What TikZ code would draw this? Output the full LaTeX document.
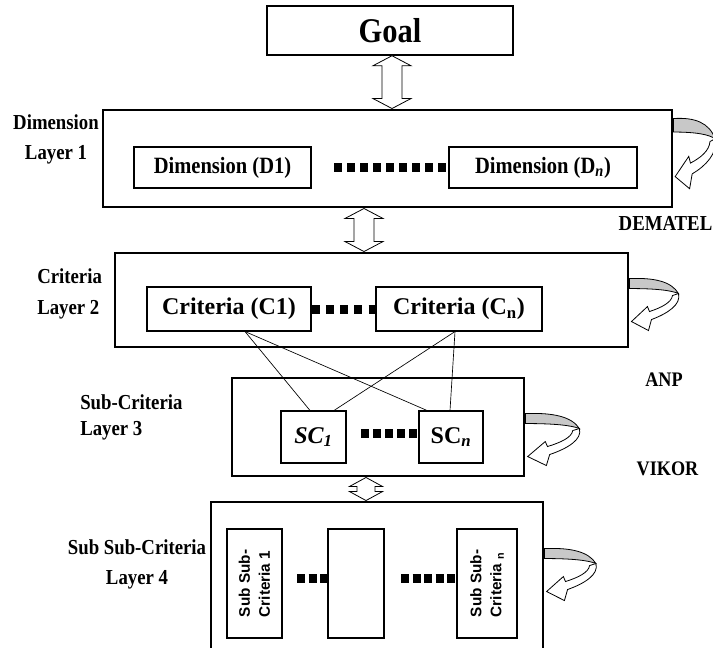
\documentclass[tikz,border=0pt]{standalone}
\usepackage{fontspec}
\setmainfont{Liberation Serif}
\newfontfamily\cond[FakeStretch=0.88]{Liberation Serif}
\newfontfamily\arialf{Liberation Sans}
\usetikzlibrary{calc}
\newlength\pxu \setlength\pxu{0.75pt}
\definecolor{loopgray}{RGB}{200,200,200}
\tikzset{
 layerbox/.style={draw, line width=2.2pt, inner sep=0pt},
 innerbox/.style={draw, line width=0.8pt, inner sep=0pt},
 lbl/.style={font=\cond\bfseries\fontsize{16}{23}\selectfont, inner sep=0pt},
 dotline/.style={line width=6.75pt, dash pattern=on 6pt off #1},
 conn/.style={line width=0.5pt},
 harrow/.style={draw, line width=0.6pt, fill=white},
 rottext/.style={rotate=90, align=left, inner sep=0pt, font=\arialf\bfseries\fontsize{11.5}{15}\selectfont},
 selfloop/.pic={
   \filldraw[line width=0.6pt, fill=loopgray] (0,0) .. controls (25,-1) and (42,3) .. (49,15) .. controls (42,12) and (28,10) .. (0,10) -- cycle;
   \filldraw[line width=0.6pt, fill=white] (49,15) .. controls (52,26) and (38,35) .. (22,41) -- (19,52) -- (2,43) -- (18,28) -- (20,33) .. controls (32,29) and (42,24) .. (43,17) -- cycle;
 }
}
\newcommand\hollowarrow[5]{%
 \draw[harrow] (#1) -- ($(#1)+(#3,#5)$) -- ($(#1)+(#4,#5)$) -- ($(#2)+(#4,-#5)$) -- ($(#2)+(#3,-#5)$) -- (#2) -- ($(#2)+(-#3,-#5)$) -- ($(#2)+(-#4,-#5)$) -- ($(#1)+(-#4,#5)$) -- ($(#1)+(-#3,#5)$) -- cycle;}
\begin{document}
\begin{tikzpicture}[x=0.75pt,y=-0.75pt]
\useasboundingbox (0,0) rectangle (713,647);
\clip (0,0) rectangle (713,647);
% Goal
\node[draw, line width=1.1pt, minimum width=246*\pxu, minimum height=49*\pxu, font=\cond\bfseries\fontsize{26}{30}\selectfont] (goal) at (390,30.5) {Goal};
% Layer 1
\node[layerbox, minimum width=569*\pxu, minimum height=97*\pxu] (l1) at (387.5,158.5) {};
\node[innerbox, minimum width=177*\pxu, minimum height=41*\pxu, font=\cond\bfseries\fontsize{17.5}{20}\selectfont] (d1) at (222.5,167.5) {Dimension (D1)};
\node[innerbox, minimum width=188*\pxu, minimum height=41*\pxu, font=\cond\bfseries\fontsize{17.5}{20}\selectfont] (dn) at (543,167.5) {Dimension (D\textsubscript{\textit{n}})};
\coordinate (dl1) at (334,167.5);
\draw[dotline=3.75pt] (dl1) -- (dn.west);
% Layer 2
\node[layerbox, minimum width=513*\pxu, minimum height=94*\pxu] (l2) at (371.5,300) {};
\node[innerbox, minimum width=164*\pxu, minimum height=44*\pxu, font=\bfseries\fontsize{18}{21}\selectfont] (c1) at (229,309) {Criteria (C1)};
\node[innerbox, minimum width=166*\pxu, minimum height=44*\pxu, font=\bfseries\fontsize{18}{21}\selectfont] (cn) at (459,309) {Criteria (C\textsubscript{n})};
\draw[dotline=4.69pt] (c1.east) -- (cn.west);
% Layer 3
\node[layerbox, minimum width=292*\pxu, minimum height=98*\pxu] (l3) at (378,427) {};
\node[innerbox, minimum width=65*\pxu, minimum height=52*\pxu, font=\bfseries\fontsize{18}{21}\selectfont] (sc1) at (313.5,437) {\textit{SC\textsubscript{1}}};
\node[innerbox, minimum width=64*\pxu, minimum height=52*\pxu, font=\bfseries\fontsize{18}{21}\selectfont] (scn) at (451,437) {SC\textsubscript{\textit{n}}};
\coordinate (dl3) at (361,433);
\draw[dotline=3pt] (dl3) -- (scn.west |- dl3);
% connectors
\draw[conn] ($(c1.south)+(16,0)$) -- ($(sc1.north)+(-3.5,0)$);
\draw[conn] ($(c1.south)+(16,0)$) -- ($(scn.north)+(-24,0)$);
\draw[conn] ($(cn.south)+(-4,0)$) -- ($(sc1.north)+(20.5,0)$);
\draw[conn] ($(cn.south)+(-4,0)$) -- ($(scn.north)+(-1,0)$);
% Layer 4
\node[layerbox, minimum width=332*\pxu, minimum height=158*\pxu] (l4) at (377,581) {};
\node[innerbox, minimum width=55*\pxu, minimum height=109*\pxu] (ssc1) at (254.5,583.5) {};
\node[innerbox, minimum width=56*\pxu, minimum height=109*\pxu] (sscm) at (356,583.5) {};
\node[innerbox, minimum width=60*\pxu, minimum height=109*\pxu] (sscn) at (487,583.5) {};
\node[rottext] (t1) at (ssc1.center) {Sub Sub-\\Criteria 1};
\node[rottext] (tn) at (sscn.center) {Sub Sub-\\Criteria \textsubscript{n}};
\coordinate (dl4a) at (297,578);
\coordinate (dl4b) at (401,578);
\draw[dotline=2.625pt] (dl4a) -- (sscm.west |- dl4a);
\draw[dotline=2.625pt] (dl4b) -- (sscn.west |- dl4b);
% hollow double arrows
\coordinate (ax1) at (392,0);
\coordinate (ax2) at (364,0);
\coordinate (ax3) at (366,0);
\hollowarrow{goal.south -| ax1}{l1.north -| ax1}{19}{10}{10}
\hollowarrow{l1.south -| ax2}{l2.north -| ax2}{19}{10}{10}
\hollowarrow{l3.south -| ax3}{l4.north -| ax3}{16.5}{9}{9}
% self loops
\pic[xscale=0.85, yscale=1.35] at ($(l1.north east)+(0,10)$) {selfloop};
\pic at ($(l2.north east)+(0,27)$) {selfloop};
\pic[xscale=1.1] at ($(l3.north east)+(0,37)$) {selfloop};
\pic[xscale=1.05] at ($(l4.north east)+(0,48)$) {selfloop};
% labels
\node[lbl, align=center] (lab1) at (56,139.5) {Dimension\\Layer 1};
\node[lbl, align=left, anchor=west] (lab2) at (37,294) {Criteria\\Layer 2};
\node[lbl, align=left, anchor=west, font=\cond\bfseries\fontsize{16}{19}\selectfont] (lab3) at (80,417.5) {Sub-Criteria\\Layer 3};
\node[lbl, align=center, font=\cond\bfseries\fontsize{16}{22.5}\selectfont] (lab4) at (137,564) {Sub Sub-Criteria\\Layer 4};
\node[lbl] (dematel) at (665.5,223.5) {DEMATEL};
\node[lbl, font=\cond\bfseries\fontsize{15.5}{18}\selectfont] (anp) at (664,380) {ANP};
\node[lbl, font=\cond\bfseries\fontsize{15.5}{18}\selectfont] (vikor) at (667.5,468.5) {VIKOR};
\end{tikzpicture}
\end{document}
